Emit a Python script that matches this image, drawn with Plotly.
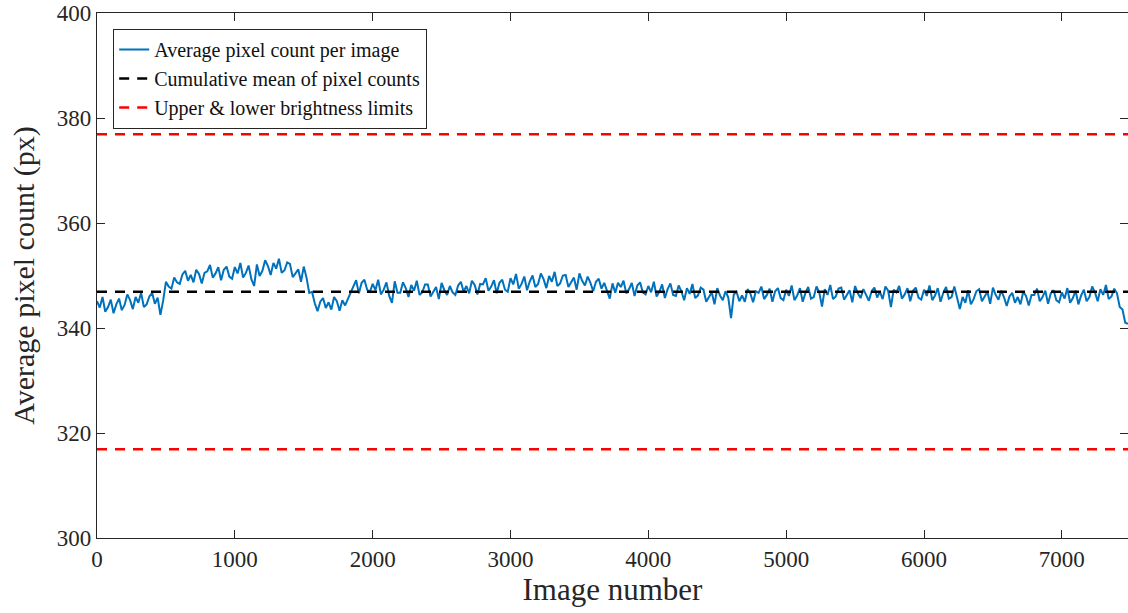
import plotly.graph_objects as go

image_step = 20
avg_pixel_count = [
    345.1, 343.9, 345.9, 343.1, 344.0, 345.4, 342.8, 344.5, 345.6, 343.4,
    344.4, 346.4, 345.3, 343.6, 345.9, 344.8, 346.7, 344.0, 344.5, 346.0,
    346.7, 344.6, 345.8, 342.5, 345.2, 348.8, 347.9, 347.5, 349.6, 348.7,
    348.4, 350.2, 350.9, 349.0, 350.1, 348.7, 351.1, 350.3, 348.5, 350.5,
    350.8, 352.0, 349.6, 350.4, 351.6, 349.1, 351.1, 351.7, 349.8, 349.4,
    351.6, 350.4, 352.4, 349.6, 350.5, 351.9, 349.3, 348.0, 352.1, 349.9,
    350.9, 352.9, 351.8, 350.1, 352.4, 351.3, 353.2, 350.5, 351.0, 352.5,
    352.2, 349.7, 350.4, 351.2, 348.8, 351.7, 349.6, 346.7, 346.9, 344.7,
    343.2, 345.0, 345.7, 343.8, 344.9, 343.5, 345.9, 345.1, 343.3, 345.3,
    344.3, 345.5, 346.6, 347.9, 349.1, 346.6, 348.6, 349.2, 347.3, 346.9,
    348.4, 347.2, 349.2, 346.4, 347.3, 348.7, 346.1, 344.8, 348.9, 346.7,
    346.7, 348.7, 347.6, 345.9, 348.2, 347.1, 349.0, 346.3, 346.8, 348.3,
    348.3, 346.0, 346.9, 347.8, 345.5, 348.6, 347.2, 346.3, 348.0, 346.8,
    346.3, 348.1, 348.8, 346.9, 348.0, 346.6, 349.0, 348.2, 346.4, 348.4,
    348.3, 349.5, 347.1, 347.9, 349.1, 346.6, 348.6, 349.2, 347.3, 346.9,
    349.5, 348.3, 350.3, 347.5, 348.4, 349.8, 347.2, 348.9, 350.0, 347.8,
    348.4, 350.4, 349.3, 347.6, 349.9, 348.8, 350.7, 348.0, 348.5, 350.0,
    350.1, 347.8, 348.7, 349.6, 347.3, 350.4, 349.0, 348.1, 349.8, 348.6,
    347.0, 348.8, 349.4, 347.5, 348.6, 347.1, 345.6, 348.5, 346.7, 348.6,
    347.8, 349.0, 346.6, 347.4, 348.6, 346.1, 348.1, 348.7, 346.8, 346.4,
    348.0, 346.8, 348.8, 346.0, 346.9, 348.3, 345.7, 347.4, 348.5, 346.3,
    346.1, 348.1, 347.0, 345.3, 347.6, 346.5, 348.4, 345.7, 346.2, 347.7,
    347.3, 345.0, 345.9, 346.8, 344.5, 347.6, 346.2, 345.3, 347.0, 345.8,
    341.9, 346.4, 346.9, 345.1, 346.2, 345.0, 347.4, 346.6, 344.9, 347.0,
    346.7, 347.9, 345.5, 346.3, 347.5, 345.0, 347.0, 347.6, 345.7, 345.3,
    347.3, 346.1, 348.1, 345.3, 346.2, 347.6, 345.0, 346.7, 347.8, 345.6,
    345.9, 347.9, 346.8, 344.1, 347.4, 346.3, 348.2, 345.5, 346.0, 347.5,
    347.7, 345.4, 346.3, 347.2, 344.9, 348.0, 346.6, 345.7, 347.4, 346.2,
    345.2, 347.0, 347.7, 345.8, 346.9, 345.5, 347.9, 347.1, 344.0, 347.3,
    346.8, 348.0, 345.6, 346.4, 347.6, 345.1, 347.1, 347.7, 345.8, 345.4,
    347.3, 346.1, 348.1, 345.3, 346.2, 347.6, 345.0, 346.7, 347.8, 345.6,
    345.9, 347.9, 345.8, 343.6, 345.9, 344.8, 347.2, 344.5, 345.5, 347.0,
    347.4, 345.1, 346.0, 346.9, 344.6, 347.7, 346.3, 345.4, 347.1, 345.9,
    344.2, 346.0, 346.7, 344.8, 345.9, 344.5, 346.9, 346.1, 344.3, 346.3,
    346.3, 347.5, 345.1, 345.9, 347.1, 344.6, 346.6, 347.2, 345.3, 344.9,
    346.8, 345.6, 347.6, 344.8, 345.7, 347.1, 344.5, 346.2, 347.3, 345.1,
    345.9, 347.9, 346.8, 345.1, 347.4, 346.3, 348.2, 345.5, 346.0, 347.5,
    346.6, 344.0, 343.5, 341.0, 340.8,
]
image_numbers = list(range(0, image_step * len(avg_pixel_count), image_step))

cumulative_mean = 346.9
upper_limit = 376.9
lower_limit = 316.9
x_max = 7480

x_ticks = [0, 1000, 2000, 3000, 4000, 5000, 6000, 7000]
y_ticks = [300, 320, 340, 360, 380, 400]

font_family = "Liberation Serif, DejaVu Serif, serif"
axis_color = "#262626"

fig = go.Figure()
fig.add_trace(go.Scatter(
    x=image_numbers, y=avg_pixel_count, mode="lines",
    name="Average pixel count per image",
    line=dict(color="#0072BD", width=2.0),
))
fig.add_trace(go.Scatter(
    x=[0, x_max], y=[cumulative_mean, cumulative_mean], mode="lines",
    name="Cumulative mean of pixel counts",
    line=dict(color="black", width=2.5, dash="10px,8px"),
))
fig.add_trace(go.Scatter(
    x=[0, x_max], y=[upper_limit, upper_limit], mode="lines",
    name="Upper & lower brightness limits",
    line=dict(color="#FF0000", width=2.5, dash="10px,8px"),
))
fig.add_trace(go.Scatter(
    x=[0, x_max], y=[lower_limit, lower_limit], mode="lines",
    showlegend=False,
    line=dict(color="#FF0000", width=2.5, dash="10px,8px"),
))

axis_common = dict(
    showline=True, linecolor=axis_color, linewidth=1.2, mirror="ticks",
    ticks="inside", ticklen=8, tickcolor=axis_color, tickwidth=1.2,
    showgrid=False, zeroline=False,
    tickfont=dict(family=font_family, size=23, color="#262626"),
)

fig.update_layout(
    width=1128, height=613,
    margin=dict(l=97, r=0, t=13, b=75),
    paper_bgcolor="white", plot_bgcolor="white",
    font=dict(family=font_family, color="#262626"),
    showlegend=True,
    legend=dict(
        x=0.0155, y=0.97, xanchor="left", yanchor="top",
        bordercolor="#262626", borderwidth=1.2, bgcolor="white",
        font=dict(family=font_family, size=20, color="#111111"),
        tracegroupgap=0, itemwidth=30,
    ),
)
fig.update_xaxes(
    range=[0, x_max], tickvals=x_ticks, ticktext=[str(v) for v in x_ticks],
    title=dict(text="Image number", font=dict(family=font_family, size=31, color="#262626"), standoff=3),
    **axis_common,
)
fig.update_yaxes(
    range=[300, 400], tickvals=y_ticks, ticktext=[str(v) for v in y_ticks],
    title=dict(text="Average pixel count (px)", font=dict(family=font_family, size=30, color="#262626"), standoff=13),
    **axis_common,
)

fig.write_html("out.html", config={"displayModeBar": False},
               post_script="document.body.style.margin='0';")
